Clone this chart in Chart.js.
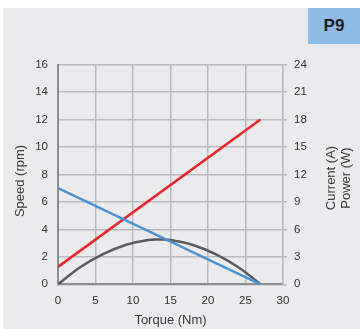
<!DOCTYPE html>
<html>
<head>
<meta charset="utf-8">
<script src="https://cdn.jsdelivr.net/npm/chart.js@4/dist/chart.umd.min.js"></script>
<style>
  body { margin: 0; background: #fff; width: 360px; height: 329px; overflow: hidden; position: relative; font-family: "Liberation Sans", Arial, sans-serif; }
  #panel { position: absolute; left: 3px; top: 8px; right: 0; bottom: 0; background: #ebebed; }
  #tag { position: absolute; left: 308px; top: 8px; width: 52px; height: 36px; background: #8fbce6; color: #1e1e1e; font-weight: bold; font-size: 17px; line-height: 36px; text-align: center; }
  #chart { position: absolute; left: 0; top: 0; }
</style>
</head>
<body>
<div id="panel"></div>
<div id="tag">P9</div>
<canvas id="chart" width="360" height="329"></canvas>
<script>
  // Speed (left axis, rpm)
  var speedTorque = [0, 27];
  var speedValues = [7, 0];

  // Current (right axis, A)
  var currentTorque = [0, 27];
  var currentValues = [1.9, 18];

  // Power (right axis, W)
  var powerTorque = [0, 3, 6, 9, 12, 13.5, 15, 18, 21, 24, 27];
  var powerValues = [0, 1.9, 3.3, 4.3, 4.85, 4.9, 4.85, 4.3, 3.3, 1.9, 0];

  var xTicks = [0, 5, 10, 15, 20, 25, 30];
  var leftTicks = [0, 2, 4, 6, 8, 10, 12, 14, 16];
  var rightTicks = [0, 3, 6, 9, 12, 15, 18, 21, 24];

  function toPoints(xs, ys) {
    return xs.map(function (x, i) { return { x: x, y: ys[i] }; });
  }

  var gridColor = '#b8bbbf';
  var axisColor = '#8c8f94';
  var tickFont = { family: 'Liberation Sans, Arial, sans-serif', size: 11.5 };

  // side titles drawn rotated, reading bottom to top
  var sideTitles = {
    id: 'sideTitles',
    afterDraw: function (chart) {
      var ctx = chart.ctx;
      ctx.save();
      ctx.font = '13px "Liberation Sans", Arial, sans-serif';
      ctx.fillStyle = '#3c3c3c';
      ctx.textAlign = 'center';
      ctx.textBaseline = 'middle';
      [['Speed (rpm)', 20.5, 181], ['Current (A)', 331.5, 178], ['Power (W)', 346, 178]].forEach(function (t) {
        ctx.save();
        ctx.translate(t[1], t[2]);
        ctx.rotate(-Math.PI / 2);
        ctx.fillText(t[0], 0, 0);
        ctx.restore();
      });
      ctx.restore();
    }
  };

  var chart = new Chart(document.getElementById('chart'), {
    type: 'line',
    data: {
      datasets: [{
        label: 'Speed',
        data: toPoints(speedTorque, speedValues),
        borderColor: '#4a92d4',
        borderWidth: 2.5,
        pointRadius: 0,
        yAxisID: 'y'
      }, {
        label: 'Current',
        data: toPoints(currentTorque, currentValues),
        borderColor: '#e8262b',
        borderWidth: 2.5,
        pointRadius: 0,
        yAxisID: 'y1'
      }, {
        label: 'Power',
        data: toPoints(powerTorque, powerValues),
        borderColor: '#5b5b5f',
        borderWidth: 2.5,
        pointRadius: 0,
        tension: 0.4,
        yAxisID: 'y1'
      }]
    },
    options: {
      responsive: false,
      animation: false,
      layout: { padding: { top: 64.7, left: 0, right: 0, bottom: 0 } },
      plugins: { legend: { display: false }, tooltip: { enabled: false } },
      scales: {
        x: {
          type: 'linear',
          min: 0, max: 30,
          afterBuildTicks: function (s) { s.ticks = xTicks.map(function (v) { return { value: v }; }); },
          afterFit: function (s) { s.height = 44.7; },
          grid: { color: gridColor, lineWidth: 1.5, drawTicks: false },
          border: { color: axisColor, width: 2 },
          ticks: { color: '#333', font: tickFont, padding: 10, maxRotation: 0 },
          title: { display: true, text: 'Torque (Nm)', color: '#3c3c3c', font: { family: 'Liberation Sans, Arial, sans-serif', size: 13 }, padding: { top: 0, bottom: 1 } }
        },
        y: {
          position: 'left',
          min: 0, max: 16,
          afterBuildTicks: function (s) { s.ticks = leftTicks.map(function (v) { return { value: v }; }); },
          afterFit: function (s) { s.width = 58; },
          grid: { color: gridColor, lineWidth: 1.5, drawTicks: false },
          border: { color: axisColor, width: 2 },
          ticks: { color: '#333', font: tickFont, padding: 10 }
        },
        y1: {
          position: 'right',
          min: 0, max: 24,
          afterBuildTicks: function (s) { s.ticks = rightTicks.map(function (v) { return { value: v }; }); },
          afterFit: function (s) { s.width = 77; },
          grid: { drawOnChartArea: false, color: gridColor, lineWidth: 1.5, drawTicks: true, tickLength: 4 },
          border: { color: gridColor, width: 1.5 },
          ticks: { color: '#333', font: tickFont, padding: 7 }
        }
      }
    },
    plugins: [sideTitles]
  });
</script>
</body>
</html>
